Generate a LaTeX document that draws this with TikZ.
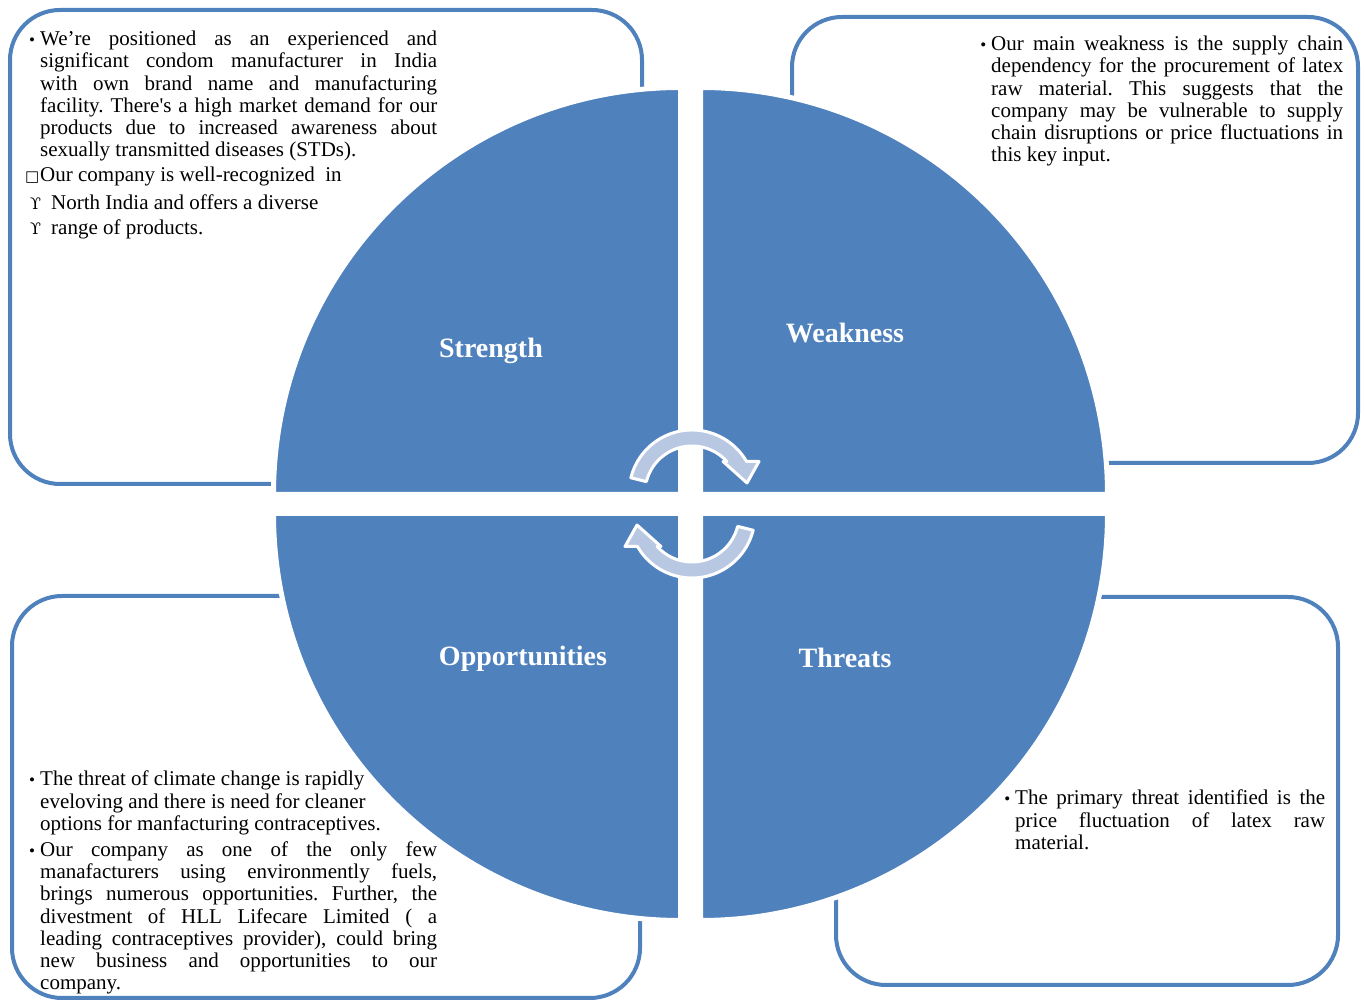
\documentclass[tikz,border=0pt]{standalone}
\usepackage{fontspec}
\setmainfont{Liberation Serif}
\newfontfamily\symfont{DejaVu Sans}
\newfontfamily\greekfont{DejaVu Serif}
\definecolor{swotblue}{RGB}{79,129,189}
\definecolor{arrowblue}{RGB}{185,200,226}
\setlength{\parindent}{0pt}
\tolerance=10000
\frenchspacing
\newcommand{\bul}{\makebox[0pt][r]{\fontsize{17}{17}\selectfont\textbullet\hspace{5pt}}}
\newcommand{\oddbox}{\makebox[0pt][r]{\symfont\fontsize{15}{15}\selectfont □\hspace{1pt}}}
\newcommand{\oddups}{\hspace*{11pt}\makebox[0pt][r]{\greekfont\fontsize{16}{16}\selectfont ϒ\hspace{10pt}}}

\tikzset{
    quarter/.style={fill=swotblue, draw=white, line width=5pt},
    swotbox/.style={draw=swotblue, line width=4pt, rounded corners=50pt},
    heading/.style={text=white, font=\fontsize{28}{30}\selectfont\bfseries},
    bodytext/.style={anchor=north west, inner sep=0pt, align=justify,
        font=\fontsize{21}{22.2}\selectfont},
    cyclearrow/.style={fill=arrowblue, draw=white, line width=3pt, line join=round}
}

\begin{document}
\begin{tikzpicture}[x=1pt, y=1pt]
    \useasboundingbox (0,0) rectangle (1365,1001);

    % outer boxes
    \draw[swotbox] (10,517) rectangle (642,991);
    \draw[swotbox] (792,538) rectangle (1358,984);
    \draw[swotbox] (12,3) rectangle (640,405);
    \draw[swotbox] (836,16) rectangle (1338,404);

    % four quarters
    \draw[quarter] (680.5,506.5) -- ++(-407,0) arc[start angle=180, end angle=90, radius=407] -- cycle;
    \draw[quarter] (700.5,506.5) -- ++(0,407) arc[start angle=90, end angle=0, radius=407] -- cycle;
    \draw[quarter] (680.5,487.5) -- ++(-407,0) arc[start angle=180, end angle=270, radius=407] -- cycle;
    \draw[quarter] (700.5,487.5) -- ++(407,0) arc[start angle=0, end angle=-90, radius=407] -- cycle;

    % cycle arrows
    \draw[cyclearrow, shift={(692,508)}] (166:63) arc[start angle=166, end angle=30, radius=63]
        -- (67,31.5) -- (55,10) -- (31,31.5) -- (42:47)
        arc[start angle=42, end angle=166, radius=47] -- cycle;
    \draw[cyclearrow, shift={(692,486)}, rotate=180] (166:63) arc[start angle=166, end angle=30, radius=63]
        -- (67,31.5) -- (55,10) -- (31,31.5) -- (42:47)
        arc[start angle=42, end angle=166, radius=47] -- cycle;

    % headings
    \node[heading] (strength) at (491,650) {Strength};
    \node[heading] (weakness) at (845,668) {Weakness};
    \node[heading] (opps) at (523,342) {Opportunities};
    \node[heading] (threats) at (845,343) {Threats};

    % texts
    \node[bodytext, text width=397pt] (sText) at (40,970) {\bul We’re positioned as an experienced and\linebreak
        significant condom manufacturer in India\linebreak
        with own brand name and manufacturing\linebreak
        facility. There\textquotesingle s a high market demand for our\linebreak
        products due to increased awareness about\linebreak
        sexually transmitted diseases (STDs).\par\vspace{3pt}
        \oddbox Our company is well-recognized \ in\par\vspace{5pt}
        \oddups North India and offers a diverse\par\vspace{3pt}
        \oddups range of products.};

    \node[bodytext, text width=352pt] (wText) at (991,965) {\bul Our main weakness is the supply chain\linebreak
        dependency for the procurement of latex\linebreak
        raw material. This suggests that the\linebreak
        company may be vulnerable to supply\linebreak
        chain disruptions or price fluctuations in\linebreak
        this key input.};

    \node[bodytext, text width=397pt] (oText) at (40,230) {\bul The threat of climate change is rapidly\\
        eveloving and there is need for cleaner\\
        options for manfacturing contraceptives.\par\vspace{4pt}
        \bul Our company as one of the only few\linebreak
        manafacturers using environmently fuels,\linebreak
        brings numerous opportunities. Further, the\linebreak
        divestment of HLL Lifecare Limited ( a\linebreak
        leading contraceptives provider), could bring\linebreak
        new business and opportunities to our\linebreak
        company.};

    \node[bodytext, text width=310pt] (tText) at (1015,211) {\bul The primary threat identified is the\linebreak
        price fluctuation of latex raw\linebreak
        material.};
\end{tikzpicture}
\end{document}
